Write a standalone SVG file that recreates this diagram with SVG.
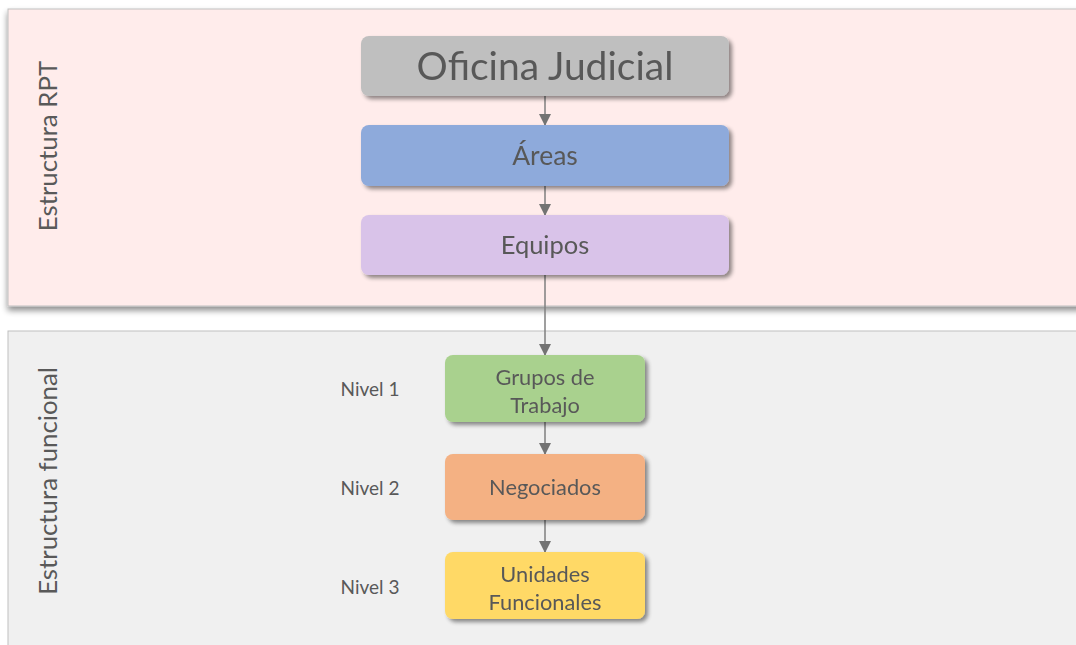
<svg xmlns="http://www.w3.org/2000/svg" width="1076" height="645" viewBox="0 0 1076 645">
<defs>
<filter id="sh" x="-10%" y="-20%" width="125%" height="150%">
<feGaussianBlur in="SourceAlpha" stdDeviation="2"/>
<feOffset dx="3" dy="3" result="b"/>
<feComponentTransfer><feFuncA type="linear" slope="0.45"/></feComponentTransfer>
<feMerge><feMergeNode/><feMergeNode in="SourceGraphic"/></feMerge>
</filter>
<filter id="psh" x="-5%" y="-10%" width="110%" height="130%">
<feGaussianBlur in="SourceAlpha" stdDeviation="3"/>
<feOffset dx="0" dy="4" result="b"/>
<feComponentTransfer><feFuncA type="linear" slope="0.45"/></feComponentTransfer>
<feMerge><feMergeNode/><feMergeNode in="SourceGraphic"/></feMerge>
</filter>
<marker id="arr" markerWidth="12" markerHeight="12" refX="11" refY="6" orient="auto" markerUnits="userSpaceOnUse">
<path d="M0,0 L12,6 L0,12 Z" fill="#737373"/>
</marker>
<style>
text{font-family:Lato,"Open Sans","Liberation Sans",sans-serif;fill:#595959;}
.node{filter:url(#sh);}
.conn line{stroke:#7f7f7f;stroke-width:1.5;marker-end:url(#arr);}
.lbl{font-size:19px;}
.side{font-size:25.8px;}
.small{font-size:21.8px;}
</style>
</defs>

<rect x="8" y="9" width="1080" height="297" fill="#ffeceb" stroke="#bfbfbf" stroke-width="1" filter="url(#psh)"/>
<rect x="8" y="331" width="1080" height="320" fill="#f0f0f0" stroke="#bfbfbf" stroke-width="1"/>

<text class="side" transform="translate(57,146) rotate(-90)" text-anchor="middle">Estructura RPT</text>
<text class="side" transform="translate(57,481) rotate(-90)" text-anchor="middle">Estructura funcional</text>

<text class="lbl" x="370" y="396" text-anchor="middle">Nivel 1</text>
<text class="lbl" x="370" y="495" text-anchor="middle">Nivel 2</text>
<text class="lbl" x="370" y="594" text-anchor="middle">Nivel 3</text>

<g class="conn">
<line x1="545" y1="96" x2="545" y2="125"/>
<line x1="545" y1="186" x2="545" y2="215"/>
<line x1="545" y1="275" x2="545" y2="355"/>
<line x1="545" y1="422" x2="545" y2="454"/>
<line x1="545" y1="520" x2="545" y2="552"/>
</g>

<g id="oficina" class="node">
<rect x="361" y="36" width="368" height="60" rx="8" fill="#bfbfbf"/>
<text x="545" y="80" text-anchor="middle" font-size="39">Oficina Judicial</text>
</g>
<g id="areas" class="node">
<rect x="361" y="125" width="368" height="61" rx="8" fill="#8eaadb"/>
<text x="545" y="165" text-anchor="middle" font-size="26.5">Áreas</text>
</g>
<g id="equipos" class="node">
<rect x="361" y="215" width="368" height="60" rx="8" fill="#d9c3e9"/>
<text x="545" y="254" text-anchor="middle" font-size="25.5">Equipos</text>
</g>
<g id="grupos" class="node">
<rect x="445" y="355" width="200" height="67" rx="8" fill="#a9d18e"/>
<text class="small" x="545" y="385" text-anchor="middle">Grupos de</text>
<text class="small" x="545" y="413" text-anchor="middle">Trabajo</text>
</g>
<g id="negociados" class="node">
<rect x="445" y="454" width="200" height="66" rx="8" fill="#f4b183"/>
<text class="small" x="545" y="495" text-anchor="middle">Negociados</text>
</g>
<g id="unidades" class="node">
<rect x="445" y="552" width="200" height="67" rx="8" fill="#ffd966"/>
<text class="small" x="545" y="582" text-anchor="middle">Unidades</text>
<text class="small" x="545" y="610" text-anchor="middle">Funcionales</text>
</g>
</svg>
